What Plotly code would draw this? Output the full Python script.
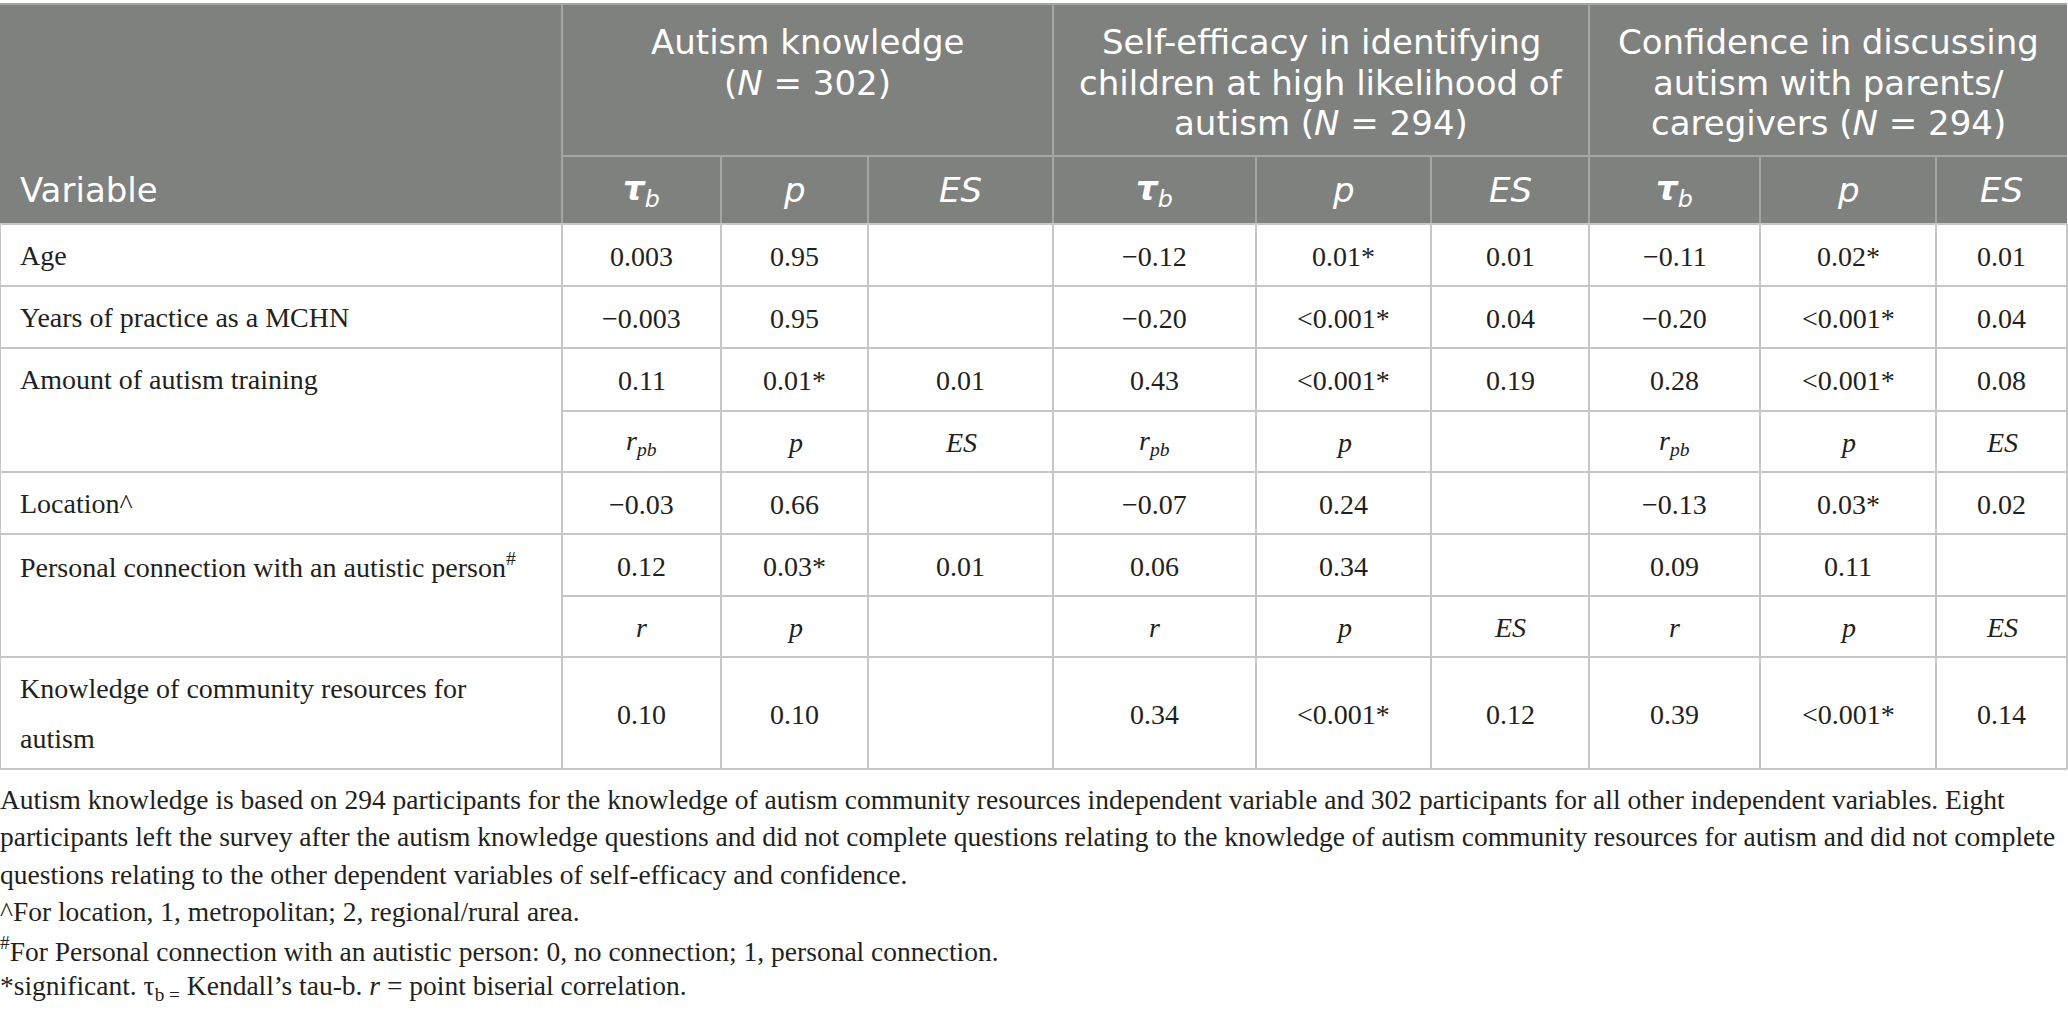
import plotly.graph_objects as go

# ---------------- table content ----------------
variables = [
    "Age",
    "Years of practice as a MCHN",
    "Amount of autism training",
    "Location^",
    "Personal connection with an autistic person<sup>#</sup>",
    "Knowledge of community resources for<br>autism",
]

groups = [
    "Autism knowledge<br>(<i>N</i> = 302)",
    "Self-efficacy in identifying<br>children at high likelihood of<br>autism (<i>N</i> = 294)",
    "Confidence in discussing<br>autism with parents/<br>caregivers (<i>N</i> = 294)",
]
sub_labels = ["<b><i>τ</i></b><i><sub>b</sub></i>", "<i>p</i>", "<i>ES</i>"]

# autism knowledge
kn_coef = ["0.003", "−0.003", "0.11", "−0.03", "0.12", "0.10"]
kn_p = ["0.95", "0.95", "0.01*", "0.66", "0.03*", "0.10"]
kn_es = ["", "", "0.01", "", "0.01", ""]
# self-efficacy
se_coef = ["−0.12", "−0.20", "0.43", "−0.07", "0.06", "0.34"]
se_p = ["0.01*", "<0.001*", "<0.001*", "0.24", "0.34", "<0.001*"]
se_es = ["0.01", "0.04", "0.19", "", "", "0.12"]
# confidence
cf_coef = ["−0.11", "−0.20", "0.28", "−0.13", "0.09", "0.39"]
cf_p = ["0.02*", "<0.001*", "<0.001*", "0.03*", "0.11", "<0.001*"]
cf_es = ["0.01", "0.04", "0.08", "0.02", "", "0.14"]

# statistic label rows inside the body
stat_rpb = ["r<sub>pb</sub>", "p", "ES", "r<sub>pb</sub>", "p", "", "r<sub>pb</sub>", "p", "ES"]
stat_r = ["r", "p", "", "r", "p", "ES", "r", "p", "ES"]

notes = [
    "Autism knowledge is based on 294 participants for the knowledge of autism community resources independent variable and 302 participants for all other independent variables. Eight",
    "participants left the survey after the autism knowledge questions and did not complete questions relating to the knowledge of autism community resources for autism and did not complete",
    "questions relating to the other dependent variables of self-efficacy and confidence.",
    "^For location, 1, metropolitan; 2, regional/rural area.",
    "<sup>#</sup>For Personal connection with an autistic person: 0, no connection; 1, personal connection.",
    "*significant. τ<sub>b =</sub> Kendall’s tau-b. <i>r</i> = point biserial correlation.",
]

# ---------------- layout (page pixels) ----------------
W, H = 2068, 1011
col_w = [562, 159, 147, 185, 203, 175, 158, 171, 176, 131]
col_x = [0]
for w in col_w:
    col_x.append(col_x[-1] + w)

top = 4
group_h = 152
sub_h = 68
body_h = [62, 62, 63, 61, 62, 62, 61, 112]
text_x = 20
head_line0 = 42      # centre of first header text line
head_gap = 40.5
body_gap = 50        # line gap in the two-line variable cell
note_y0 = 799
note_gap = 37.6

header_bg = "#7f817f"
header_ink = "#ffffff"
header_line = "#a4a6a5"
grid = "#c6c6c6"
ink = "#231f20"
sans = "DejaVu Sans"
serif = "Liberation Serif"
head_size = 34
body_size = 28
note_size = 27.5

shapes = []
annotations = []


def line(x0, y0, x1, y1, color, width=2):
    shapes.append(dict(type="line", xref="x", yref="y", x0=x0, y0=y0, x1=x1, y1=y1,
                       line=dict(color=color, width=width), layer="above"))


def text(x, y, s, size, color, family, anchor="center"):
    annotations.append(dict(x=x, y=y, xref="x", yref="y", text=s, showarrow=False,
                            xanchor=anchor, yanchor="middle", borderpad=0, borderwidth=0,
                            font=dict(family=family, size=size, color=color)))


def mid(i, j):
    return (col_x[i] + col_x[j]) / 2


# ---------------- header ----------------
sub_top = top + group_h
head_bot = sub_top + sub_h
shapes.append(dict(type="rect", xref="x", yref="y", x0=col_x[0], x1=col_x[-1], y0=top, y1=head_bot,
                   fillcolor=header_bg, line=dict(width=0), layer="below"))
line(col_x[0], top, col_x[-1], top, header_line)
line(col_x[1], sub_top, col_x[-1], sub_top, header_line)
for k in [1, 4, 7]:
    line(col_x[k], top, col_x[k], head_bot, header_line)
for k in [2, 3, 5, 6, 8, 9]:
    line(col_x[k], sub_top, col_x[k], head_bot, header_line)

text(text_x, (sub_top + head_bot) / 2, "Variable", head_size, header_ink, sans, "left")
for g, label in enumerate(groups):
    for k, part in enumerate(label.split("<br>")):
        text(mid(1 + 3 * g, 4 + 3 * g), head_line0 + k * head_gap, part, head_size, header_ink, sans)
    for s in range(3):
        c = 1 + 3 * g + s
        text(mid(c, c + 1), (sub_top + head_bot) / 2, sub_labels[s], head_size, header_ink, sans)

# ---------------- body ----------------
values = list(zip(kn_coef, kn_p, kn_es, se_coef, se_p, se_es, cf_coef, cf_p, cf_es))
rows = []
for i, name in enumerate(variables):
    rows.append((name, list(values[i]), False))
    if i == 2:
        rows.append(("", stat_rpb, True))
    if i == 4:
        rows.append(("", stat_r, True))

y = head_bot
for (name, cells, is_stat), h in zip(rows, body_h):
    line(col_x[1] if is_stat else col_x[0], y, col_x[-1], y, grid)
    cy = y + h / 2
    if name:
        parts = name.split("<br>")
        for k, part in enumerate(parts):
            text(text_x, cy + (k - (len(parts) - 1) / 2) * body_gap, part, body_size, ink, serif, "left")
    for c, val in enumerate(cells):
        if val:
            s = "<i>%s</i>" % val if is_stat else val
            text(mid(c + 1, c + 2), cy + 1, s, body_size, ink, serif)
    y += h
line(col_x[0], y, col_x[-1], y, grid)
for k in range(len(col_x)):
    line(col_x[k], head_bot, col_x[k], y, grid)

# ---------------- notes ----------------
for i, note in enumerate(notes):
    text(0, note_y0 + i * note_gap, note, note_size, ink, serif, "left")

fig = go.Figure()
fig.update_layout(
    width=W, height=H,
    margin=dict(l=0, r=0, t=0, b=0),
    paper_bgcolor="white", plot_bgcolor="white",
    xaxis=dict(range=[0, W], visible=False, fixedrange=True),
    yaxis=dict(range=[H, 0], visible=False, fixedrange=True),
    shapes=shapes, annotations=annotations,
    showlegend=False,
)

# the page itself should not add a margin around the figure
fig.write_html("out.html", config={"displayModeBar": False},
               post_script="document.body.style.margin = '0';")
